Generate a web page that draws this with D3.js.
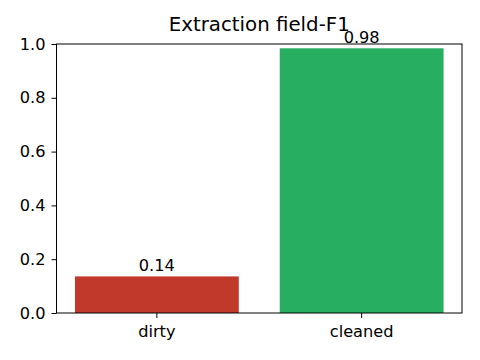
<!DOCTYPE html>
<html>
<head>
<meta charset="utf-8">
<script src="https://cdn.jsdelivr.net/npm/d3@7"></script>
<style>
  body { margin: 0; background: #fff; }
  text { font-family: "DejaVu Sans", sans-serif; fill: #000; }
  .axis path, .axis line { stroke: #000; stroke-width: 1; }
  .axis text { font-size: 16.2px; fill: #000; }
</style>
</head>
<body>
<div id="chart"></div>
<script>
var categories = ["dirty", "cleaned"];
var values = [0.136, 0.984];
var value_labels = ["0.14", "0.98"];
var bar_colors = ["#c0392b", "#27ae60"];
var y_ticks = [0.0, 0.2, 0.4, 0.6, 0.8, 1.0];
var title = "Extraction field-F1";

var margin = {top: 44, right: 18, bottom: 47, left: 56.5},
    width = 480 - margin.left - margin.right,
    height = 360 - margin.top - margin.bottom;

var svg = d3.select("#chart").append("svg")
    .attr("width", 480)
    .attr("height", 360)
  .append("g")
    .attr("transform", "translate(" + margin.left + "," + margin.top + ")");

var x = d3.scaleBand()
    .domain(categories)
    .range([0, width])
    .paddingInner(0.2)
    .paddingOuter(0.09);

var y = d3.scaleLinear()
    .domain([0, 1])
    .range([height, 0]);

svg.selectAll(".bar")
    .data(categories)
  .enter().append("rect")
    .attr("class", "bar")
    .attr("x", function(d) { return x(d); })
    .attr("width", x.bandwidth())
    .attr("y", function(d, i) { return y(values[i]); })
    .attr("height", function(d, i) { return height - y(values[i]); })
    .style("fill", function(d, i) { return bar_colors[i]; });

svg.selectAll(".value")
    .data(categories)
  .enter().append("text")
    .attr("class", "value")
    .attr("x", function(d) { return x(d) + x.bandwidth() / 2; })
    .attr("y", function(d, i) { return y(values[i]) - 5; })
    .style("text-anchor", "middle")
    .style("font-size", "16.2px")
    .text(function(d, i) { return value_labels[i]; });

// frame
svg.append("rect")
    .attr("width", width)
    .attr("height", height)
    .style("fill", "none")
    .style("stroke", "#000")
    .style("stroke-width", 1);

svg.append("g")
    .attr("class", "x axis")
    .attr("transform", "translate(0," + height + ")")
    .call(d3.axisBottom(x).tickSize(5).tickPadding(7).tickSizeOuter(0))
    .call(function(g) { g.select(".domain").remove(); });

svg.append("g")
    .attr("class", "y axis")
    .call(d3.axisLeft(y).tickValues(y_ticks).tickFormat(d3.format(".1f")).tickSize(5).tickPadding(6).tickSizeOuter(0))
    .call(function(g) { g.select(".domain").remove(); });

svg.append("text")
    .attr("x", width / 2)
    .attr("y", -13)
    .style("text-anchor", "middle")
    .style("font-size", "19.8px")
    .text(title);
</script>
</body>
</html>
